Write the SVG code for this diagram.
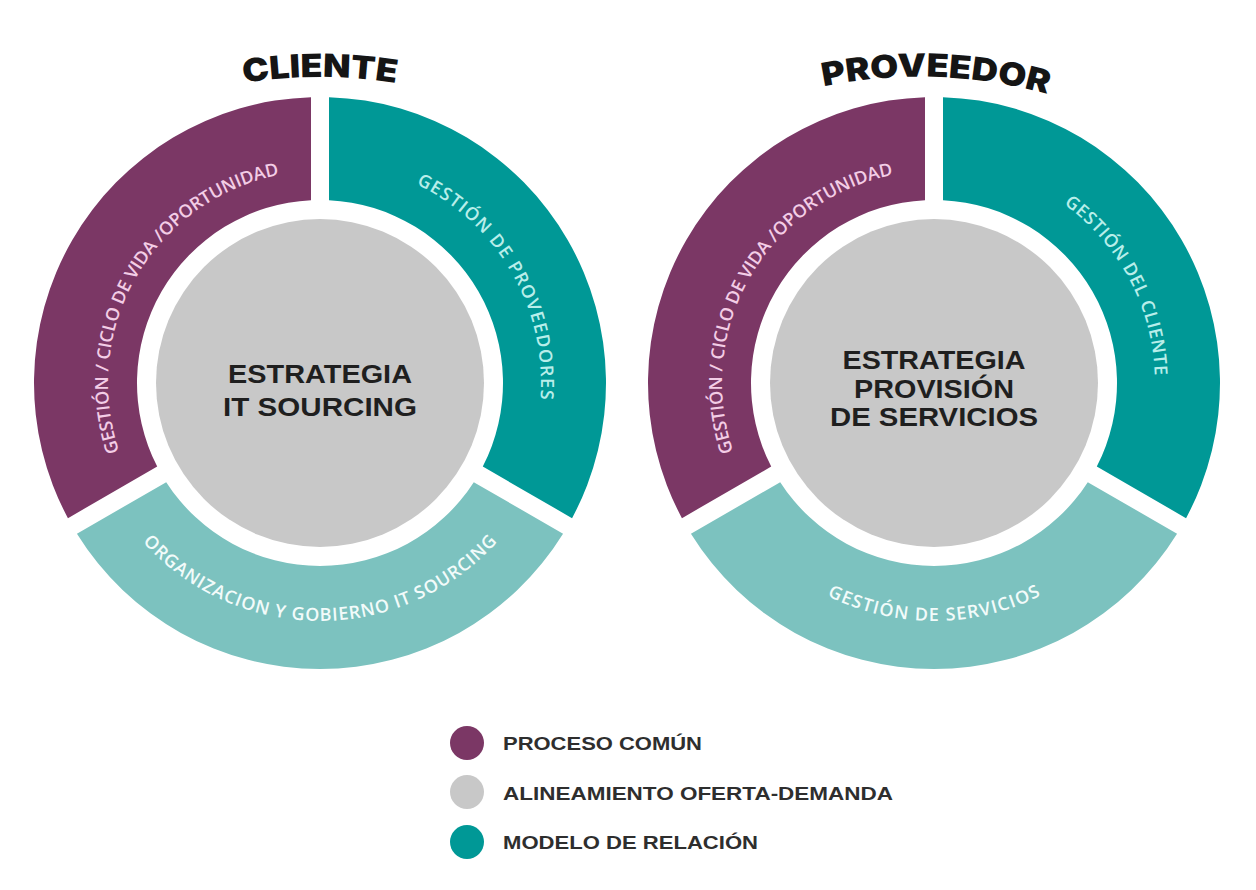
<svg xmlns="http://www.w3.org/2000/svg" width="1256" height="890" viewBox="0 0 1256 890">
<style>
.purple{fill:#7b3765}
.teal{fill:#009896}
.lteal{fill:#7cc2bf}
.core{fill:#c8c8c8}
.rt{font-family:"Open Sans","Liberation Sans",sans-serif;font-size:18px;font-weight:600;text-anchor:middle}
.rt-p{fill:#f3cde6}
.rt-t{fill:#b8eeea}
.rt-l{fill:#f2fbfa}
.title{font-family:Inter,"Open Sans","Liberation Sans",sans-serif;font-weight:900;font-size:32px;fill:#151515;text-anchor:middle}
.ct{font-family:"Liberation Sans",Arial,sans-serif;font-weight:700;font-size:26px;fill:#1f1f1f;text-anchor:middle}
.lg{font-family:"Liberation Sans",Arial,sans-serif;font-weight:700;font-size:19px;fill:#2e2e2e}
</style>
<defs>
<path id="pPurple" d="M -136.27 162.40 A 212 212 0 0 1 72.51 -199.22"/>
<path id="pTeal" d="M -75.59 -207.67 A 221 221 0 0 1 142.06 169.30"/>
<path id="pBottom" d="M -234.38 41.33 A 238 238 0 0 0 234.38 41.33"/>
<path id="pTitleL" d="M 140.2 111.9 A 480 480 0 0 1 499.8 111.9"/>
<path id="pTitleR" d="M 756.2 111.9 A 480 480 0 0 1 1115.8 111.9"/>
<path id="segPurple" d="M -252.06 135.135 A 286 286 0 0 1 -9 -285.858 L -9 -182.779 A 183 183 0 0 0 -162.791 83.596 Z"/>
<path id="segTeal" d="M 9 -285.858 A 286 286 0 0 1 252.06 135.135 L 162.791 83.596 A 183 183 0 0 0 9 -182.779 Z"/>
<path id="segBottom" d="M 243.06 150.723 A 286 286 0 0 1 -243.06 150.723 L -153.791 99.184 A 183 183 0 0 0 153.791 99.184 Z"/>
</defs>
<rect width="1256" height="890" fill="#ffffff"/>

<g id="title-cliente">
<text class="title"><textPath href="#pTitleL" startOffset="50%" textLength="153" lengthAdjust="spacingAndGlyphs">CLIENTE</textPath></text>
</g>
<g id="title-proveedor" transform="rotate(2 936 77)">
<text class="title"><textPath href="#pTitleR" startOffset="50%" textLength="226" lengthAdjust="spacingAndGlyphs">PROVEEDOR</textPath></text>
</g>

<g id="cliente" transform="translate(320,383)">
<g id="cliente-proceso">
<use href="#segPurple" class="purple"/>
<text class="rt rt-p"><textPath href="#pPurple" startOffset="50%" textLength="362" lengthAdjust="spacing">GESTIÓN / CICLO DE VIDA /OPORTUNIDAD</textPath></text>
</g>
<g id="cliente-proveedores">
<use href="#segTeal" class="teal"/>
<text class="rt rt-t"><textPath href="#pTeal" startOffset="50%" textLength="264" lengthAdjust="spacing">GESTIÓN DE PROVEEDORES</textPath></text>
</g>
<g id="cliente-organizacion">
<use href="#segBottom" class="lteal"/>
<text class="rt rt-l"><textPath href="#pBottom" startOffset="50%" textLength="400" lengthAdjust="spacing">ORGANIZACION Y GOBIERNO IT SOURCING</textPath></text>
</g>
<g id="cliente-estrategia">
<circle r="164" class="core"/>
<text class="ct" x="0" y="0" textLength="184" lengthAdjust="spacingAndGlyphs">ESTRATEGIA</text>
<text class="ct" x="0" y="33" textLength="194" lengthAdjust="spacingAndGlyphs">IT SOURCING</text>
</g>
</g>

<g id="proveedor" transform="translate(934,383)">
<g id="proveedor-proceso">
<use href="#segPurple" class="purple"/>
<text class="rt rt-p"><textPath href="#pPurple" startOffset="50%" textLength="362" lengthAdjust="spacing">GESTIÓN / CICLO DE VIDA /OPORTUNIDAD</textPath></text>
</g>
<g id="proveedor-cliente">
<use href="#segTeal" class="teal"/>
<text class="rt rt-t"><textPath href="#pTeal" startOffset="51.25%" textLength="201" lengthAdjust="spacing">GESTIÓN DEL CLIENTE</textPath></text>
</g>
<g id="proveedor-servicios">
<use href="#segBottom" class="lteal"/>
<text class="rt rt-l"><textPath href="#pBottom" startOffset="50%" textLength="222" lengthAdjust="spacing">GESTIÓN DE SERVICIOS</textPath></text>
</g>
<g id="proveedor-estrategia">
<circle r="164" class="core"/>
<text class="ct" x="0" y="-14" textLength="183" lengthAdjust="spacingAndGlyphs">ESTRATEGIA</text>
<text class="ct" x="0" y="15" textLength="160" lengthAdjust="spacingAndGlyphs">PROVISIÓN</text>
<text class="ct" x="0" y="43" textLength="208" lengthAdjust="spacingAndGlyphs">DE SERVICIOS</text>
</g>
</g>

<g id="legend">
<g id="legend-proceso">
<circle cx="467" cy="743" r="17" class="purple"/>
<text class="lg" x="503" y="750" textLength="199" lengthAdjust="spacingAndGlyphs">PROCESO COMÚN</text>
</g>
<g id="legend-alineamiento">
<circle cx="467" cy="792" r="17" class="core"/>
<text class="lg" x="503" y="800" textLength="390" lengthAdjust="spacingAndGlyphs">ALINEAMIENTO OFERTA-DEMANDA</text>
</g>
<g id="legend-modelo">
<circle cx="467" cy="842" r="17" class="teal"/>
<text class="lg" x="503" y="849" textLength="255" lengthAdjust="spacingAndGlyphs">MODELO DE RELACIÓN</text>
</g>
</g>
</svg>
